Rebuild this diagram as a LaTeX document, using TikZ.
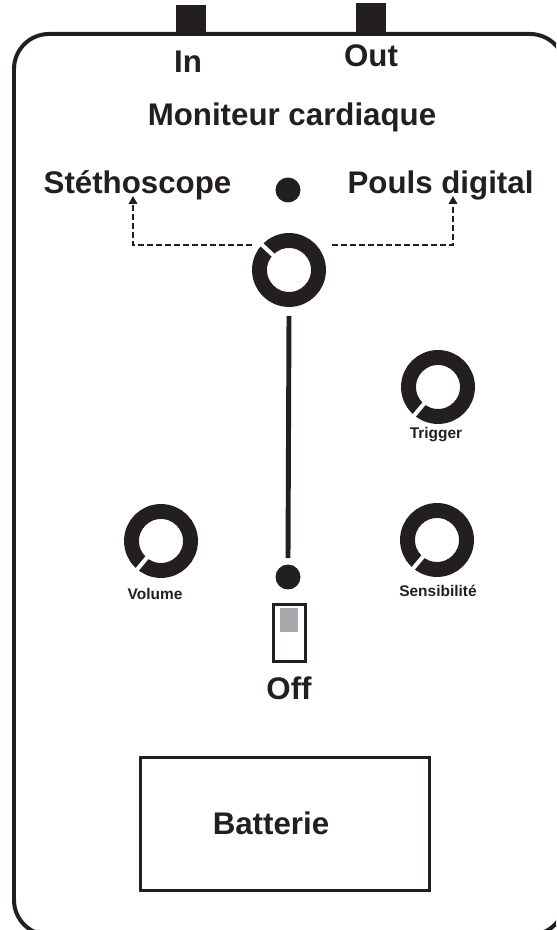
\documentclass[tikz,border=0pt]{standalone}
\usepackage{fontspec}
\setmainfont{Liberation Sans}
\usepackage{tikz}
\usetikzlibrary{shapes,arrows,arrows.meta,positioning}

\definecolor{ink}{HTML}{231F20}
\definecolor{slider}{HTML}{A7A9AC}

\tikzset{
  big/.style={font=\fontsize{17.8}{20}\selectfont\bfseries, text=ink, inner sep=0pt, anchor=base},
  tiny/.style={font=\fontsize{8.8}{10}\selectfont\bfseries, text=ink, inner sep=0pt, anchor=base},
  knob/.style={circle, draw=ink, line width=8.5pt, minimum size=1.18cm, inner sep=0pt},
  notch/.style={white, line width=2.3pt},
  led/.style={circle, fill=ink, inner sep=0pt, minimum size=0.5cm},
  jack/.style={fill=ink, minimum width=0.6cm, minimum height=0.58cm, inner sep=0pt},
  link/.style={ink, line width=1.1pt, dash pattern=on 3.4pt off 1.7pt, -{Triangle[length=4.5pt,width=4.8pt]}},
}

\begin{document}
\begin{tikzpicture}[x=0.02cm,y=0.02cm]
\clip (0,0) rectangle (556,930);

% boitier
\node[jack] (injack) at (191,910.5) {};
\node[jack] (outjack) at (371,912) {};
\draw[ink, line width=2.27pt, rounded corners=0.7cm] (14,-5) rectangle (565,896);

\node[big] (inlbl) at (188,857) {In};
\node[big] (outlbl) at (371,863) {Out};
\node[big] (title) at (292,804) {Moniteur cardiaque};

% selecteur
\node[big] (steth) at (137.5,736) {Stéthoscope};
\node[big] (pouls) at (440.5,736) {Pouls digital};
\node[led] (topled) at (288,740) {};
\node[knob] (sel) at (289,660) {};
\draw[notch] (sel.center) ++(137:20) -- ++(137:19);
\coordinate (stethtip) at (133,734);
\coordinate (poulstip) at (453,734);
\draw[link] ([xshift=-0.2cm]sel.137) -| (stethtip);
\draw[link] ([xshift=0.32cm]sel.43) -| (poulstip);

% interrupteur
\node[led] (pwrled) at (288,353) {};
\draw[ink, line width=2.8pt] ([yshift=-0.18cm]sel.south) -- ([yshift=0.12cm]pwrled.north);
\node[draw=ink, line width=1.7pt, minimum width=0.64cm, minimum height=1.14cm, inner sep=0pt] (switch) at (289.5,297) {};
\fill[slider] (280,322) rectangle (298,298);
\node[big] (offlbl) at (289,230) {Off};

% potentiometres
\node[knob] (trig) at (438,543) {};
\draw[notch] (trig.center) ++(230:20) -- ++(230:19);
\node[tiny] (triglbl) at (436,491) {Trigger};

\node[knob] (vol) at (161,389) {};
\draw[notch] (vol.center) ++(230:20) -- ++(230:19);
\node[tiny] (vollbl) at (155,330) {Volume};

\node[knob] (sens) at (437,390) {};
\draw[notch] (sens.center) ++(230:20) -- ++(230:19);
\node[tiny] (senslbl) at (438,333) {Sensibilité};

% batterie
\node[draw=ink, line width=2pt, minimum width=5.78cm, minimum height=2.66cm, inner sep=0pt] (batt) at (285,106) {};
\node[big] (battlbl) at (271,95) {Batterie};

\end{tikzpicture}
\end{document}
